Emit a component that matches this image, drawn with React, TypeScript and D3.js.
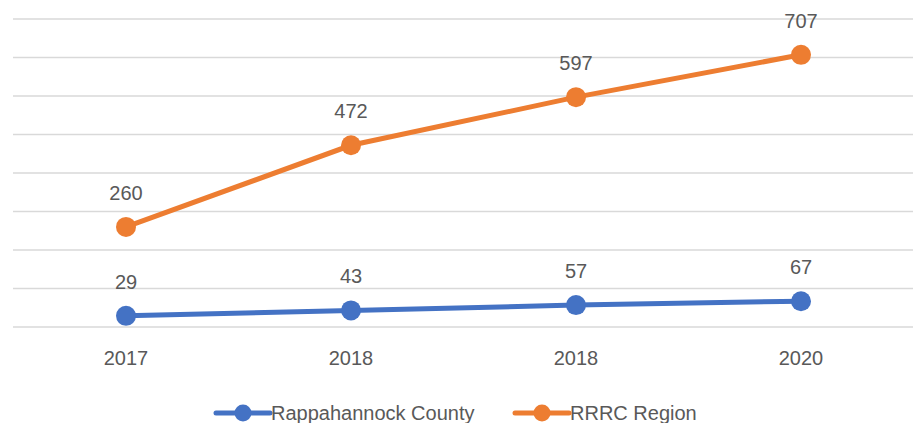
import React, { useEffect, useRef } from "react";
import * as d3 from "d3";

const categories = ["2017", "2018", "2018", "2020"];
const county = [29, 43, 57, 67];
const region = [260, 472, 597, 707];
const seriesNames = ["Rappahannock County", "RRRC Region"];
const colors = ["#4472C4", "#ED7D31"];
const yTicks = [0, 100, 200, 300, 400, 500, 600, 700, 800];

const App = () => {
  const ref = useRef<SVGSVGElement>(null);

  useEffect(() => {
    drawChart();
  }, []);

  const drawChart = () => {
    const w = 913;
    const svg = d3.select(ref.current);
    svg.selectAll("*").remove();

    const font = "'Liberation Sans', Arial, sans-serif";
    const textColor = "#595959";

    const x = d3.scaleBand<number>()
      .domain(categories.map((_, i) => i))
      .range([13.5, 913.5]);
    const y = d3.scaleLinear().domain([0, 800]).range([327, 19]);

    // gridlines
    svg.append("g")
      .selectAll("line")
      .data(yTicks)
      .enter()
      .append("line")
      .attr("x1", 13)
      .attr("x2", w)
      .attr("y1", (d) => y(d))
      .attr("y2", (d) => y(d))
      .attr("stroke", "#d9d9d9")
      .attr("stroke-width", 1.5);

    // category labels
    svg.append("g")
      .selectAll("text")
      .data(categories)
      .enter()
      .append("text")
      .attr("x", (_, i) => x(i)! + x.bandwidth() / 2)
      .attr("y", 365)
      .attr("text-anchor", "middle")
      .attr("font-family", font)
      .attr("font-size", 20)
      .attr("fill", textColor)
      .text((d) => d);

    const cx = (i: number) => x(i)! + x.bandwidth() / 2;
    const line = d3.line<number>()
      .x((_, i) => cx(i))
      .y((d) => y(d));

    [county, region].forEach((data, s) => {
      const g = svg.append("g");
      g.append("path")
        .attr("d", line(data))
        .attr("fill", "none")
        .attr("stroke", colors[s])
        .attr("stroke-width", 5)
        .attr("stroke-linecap", "round");
      g.selectAll("circle")
        .data(data)
        .enter()
        .append("circle")
        .attr("cx", (_, i) => cx(i))
        .attr("cy", (d) => y(d))
        .attr("r", 10)
        .attr("fill", colors[s]);
      g.selectAll("text")
        .data(data)
        .enter()
        .append("text")
        .attr("x", (_, i) => cx(i))
        .attr("y", (d) => y(d) - 27)
        .attr("text-anchor", "middle")
        .attr("font-family", font)
        .attr("font-size", 20)
        .attr("fill", textColor)
        .text((d) => d);
    });

    // legend
    const legendX = [216, 515];
    seriesNames.forEach((name, s) => {
      const g = svg.append("g").attr("transform", "translate(" + legendX[s] + ",413)");
      g.append("line")
        .attr("x1", 0)
        .attr("x2", 54)
        .attr("stroke", colors[s])
        .attr("stroke-width", 5)
        .attr("stroke-linecap", "round");
      g.append("circle").attr("cx", 27).attr("r", 8.5).attr("fill", colors[s]);
      g.append("text")
        .attr("x", 55)
        .attr("y", 7)
        .attr("font-family", font)
        .attr("font-size", 20)
        .attr("fill", textColor)
        .text(name);
    });
  };

  return (
    <svg
      ref={ref}
      width={913}
      height={423}
      style={{ position: "absolute", left: 0, top: 0, background: "#fff" }}
    />
  );
};

export default App;
